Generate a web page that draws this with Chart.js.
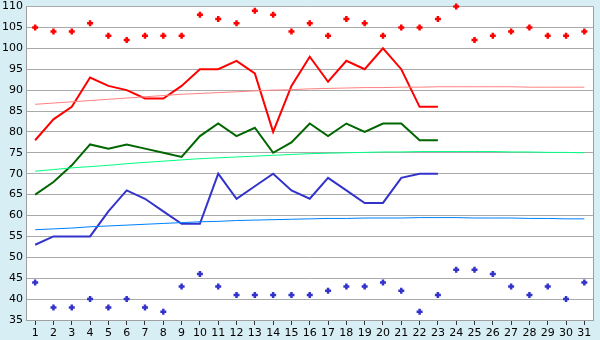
<!DOCTYPE html>
<html>
<head>
<meta charset="utf-8">
<script src="https://cdn.jsdelivr.net/npm/chart.js@4"></script>
<style>
  html, body { margin: 0; padding: 0; background: #d8eef5; }
  canvas { display: block; }
</style>
</head>
<body>
<canvas id="chart" width="600" height="340"></canvas>
<script>
'use strict';

// days of the month
const days = Array.from({ length: 31 }, (_, i) => String(i + 1));

// daily lines (only filled up to day 23)
const redLine = [78, 83, 86, 93, 91, 90, 88, 88, 91, 95, 95, 97, 94, 80, 91, 98, 92, 97, 95, 100, 95, 86, 86,
  null, null, null, null, null, null, null, null];
const greenLine = [65, 68, 72, 77, 76, 77, 76, 75, 74, 79, 82, 79, 81, 75, 77.5, 82, 79, 82, 80, 82, 82, 78, 78,
  null, null, null, null, null, null, null, null];
const blueLine = [53, 55, 55, 55, 61, 66, 64, 61, 58, 58, 70, 64, 67, 70, 66, 64, 69, 66, 63, 63, 69, 70, 70,
  null, null, null, null, null, null, null, null];

// scattered points
const redPoints = [105, 104, 104, 106, 103, 102, 103, 103, 103, 108, 107, 106, 109, 108, 104, 106,
  103, 107, 106, 103, 105, 105, 107, 110, 102, 103, 104, 105, 103, 103, 104];
const bluePoints = [44, 38, 38, 40, 38, 40, 38, 37, 43, 46, 43, 41, 41, 41, 41, 41,
  42, 43, 43, 44, 42, 37, 41, 47, 47, 46, 43, 41, 43, 40, 44];

// trend curves
const redTrend = [86.6, 86.9, 87.2, 87.5, 87.8, 88.1, 88.4, 88.7, 89.0, 89.2, 89.4, 89.6, 89.8, 90.0, 90.1, 90.3,
  90.4, 90.5, 90.6, 90.6, 90.7, 90.7, 90.8, 90.8, 90.8, 90.8, 90.8, 90.7, 90.7, 90.7, 90.7];
const greenTrend = [70.6, 71.0, 71.4, 71.7, 72.0, 72.4, 72.7, 73.0, 73.3, 73.6, 73.8, 74.0, 74.2, 74.4, 74.6, 74.8,
  74.9, 75.0, 75.1, 75.2, 75.2, 75.3, 75.3, 75.3, 75.3, 75.3, 75.2, 75.2, 75.1, 75.1, 75.0];
const blueTrend = [56.6, 56.8, 57.0, 57.3, 57.5, 57.7, 57.9, 58.1, 58.3, 58.5, 58.6, 58.8, 58.9, 59.0, 59.1, 59.2,
  59.3, 59.3, 59.4, 59.4, 59.4, 59.5, 59.5, 59.5, 59.4, 59.4, 59.4, 59.3, 59.3, 59.2, 59.2];

const yMin = 35;
const yMax = 110;
const yStep = 5;

const plotBg = {
  id: 'plotBg',
  beforeDraw(chart) {
    const ctx = chart.ctx;
    const a = chart.chartArea;
    ctx.save();
    ctx.fillStyle = '#d8eef5';
    ctx.fillRect(0, 0, chart.width, chart.height);
    ctx.fillStyle = '#ffffff';
    ctx.fillRect(a.left, a.top, a.right - a.left, a.bottom - a.top);
    ctx.restore();
  },
  afterDatasetsDraw(chart) {
    const ctx = chart.ctx;
    const a = chart.chartArea;
    ctx.save();
    ctx.strokeStyle = '#a0a0a0';
    ctx.lineWidth = 1;
    ctx.beginPath();
    ctx.moveTo(Math.round(a.right) - 0.5, a.top);
    ctx.lineTo(Math.round(a.right) - 0.5, a.bottom);
    ctx.stroke();
    ctx.restore();
  }
};

function lineSet(data, color, width) {
  return {
    data: data,
    borderColor: color,
    borderWidth: width,
    pointRadius: 0,
    tension: 0,
    spanGaps: false,
    fill: false
  };
}

function pointSet(data, color) {
  return {
    data: data,
    showLine: false,
    clip: false,
    borderColor: color,
    backgroundColor: color,
    pointStyle: 'cross',
    pointRadius: 3,
    pointBorderWidth: 2.5
  };
}

const ctx = document.getElementById('chart').getContext('2d');

new Chart(ctx, {
  type: 'line',
  data: {
    labels: days,
    datasets: [
      lineSet(redTrend, '#ff8080', 1),
      lineSet(greenTrend, '#00ff80', 1),
      lineSet(blueTrend, '#0080ff', 1),
      lineSet(redLine, '#ff0000', 2),
      lineSet(greenLine, '#006600', 2),
      lineSet(blueLine, '#3333cc', 2),
      pointSet(redPoints, '#ff0000'),
      pointSet(bluePoints, '#3333cc')
    ]
  },
  options: {
    responsive: false,
    devicePixelRatio: 1,
    animation: false,
    layout: { padding: { top: 5, right: 5, left: 0, bottom: 0 } },
    plugins: {
      legend: { display: false },
      tooltip: { enabled: false }
    },
    scales: {
      x: {
        offset: true,
        afterFit(scale) {
          scale.height = 20;
          scale.paddingLeft = 0;
          scale.paddingRight = 0;
        },
        grid: {
          drawOnChartArea: false,
          drawTicks: true,
          tickLength: 5,
          color: '#333333'
        },
        border: { color: '#a0a0a0' },
        ticks: {
          color: '#000000',
          padding: 2,
          maxRotation: 0,
          autoSkip: false,
          font: { family: 'DejaVu Sans', size: 11 }
        }
      },
      y: {
        min: yMin,
        max: yMax,
        afterFit(scale) {
          scale.width = 26;
          scale.paddingTop = 0;
          scale.paddingBottom = 0;
        },
        grid: {
          color: '#aaaaaa',
          drawTicks: false
        },
        border: { color: '#a0a0a0' },
        ticks: {
          stepSize: yStep,
          color: '#000000',
          padding: 3,
          font: { family: 'DejaVu Sans', size: 11 }
        }
      }
    }
  },
  plugins: [plotBg]
});
</script>
</body>
</html>
